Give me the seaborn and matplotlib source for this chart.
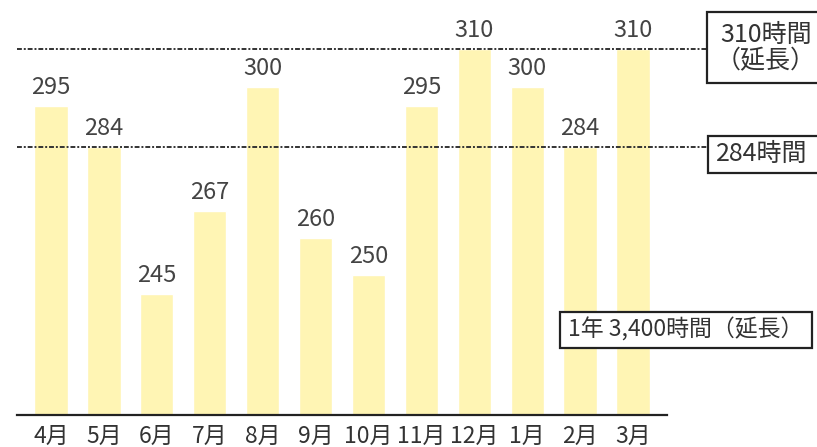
import matplotlib
matplotlib.use("Agg")
import matplotlib.pyplot as plt
import matplotlib.transforms as mtransforms
from matplotlib.patches import Rectangle
import seaborn as sns
import pandas as pd

# data
months = ["4月", "5月", "6月", "7月", "8月", "9月", "10月", "11月", "12月", "1月", "2月", "3月"]
hours = [295, 284, 245, 267, 300, 260, 250, 295, 310, 300, 284, 310]
ref_lines = [310, 284]
ref_texts = ["310時間\n（延長）", "284時間"]
total_text = "1年 3,400時間（延長）"

sns.set_style("white")
plt.rcParams["font.family"] = ["Noto Sans CJK JP", "DejaVu Sans"]

df = pd.DataFrame({"month": months, "hours": hours})

W, H = 817, 447
fig = plt.figure(figsize=(W / 100, H / 100), dpi=100)
ax = fig.add_axes([17 / W, 32 / H, 650 / W, 415 / H])

sns.barplot(data=df, x="month", y="hours", color="#fff5b4", width=0.63,
            saturation=1, ax=ax, zorder=1)
ax.set_ylim(213, 323)
ax.set_xlim(-0.643, 11.643)

# value labels
ax.bar_label(ax.containers[0], labels=[str(v) for v in hours], padding=5,
             fontsize=17, color="#444444", zorder=5,
             bbox=dict(facecolor="white", edgecolor="none", pad=0.5))

# dotted reference lines running out to the boxes
trans = mtransforms.blended_transform_factory(ax.transAxes, ax.transData)
line_end = (707 - 17) / 650
for v in ref_lines:
    ax.plot([0, line_end], [v, v], transform=trans, clip_on=False,
            color="#333333", lw=1.4, ls=(0, (2.5, 1, 1, 1)), zorder=3)


def px_box(x0, y0, x1, y1):
    # rectangle given in picture pixels (top-left origin)
    r = Rectangle((x0 / W, 1 - y1 / H), (x1 - x0) / W, (y1 - y0) / H,
                  transform=fig.transFigure, fill=True, facecolor="white",
                  edgecolor="#222222", lw=1.6, zorder=4)
    fig.add_artist(r)


# boxes at the right (run off the edge of the picture)
px_box(707, 12, 840, 83)
fig.text(766 / W, 1 - 48 / H, ref_texts[0], ha="center", va="center",
         multialignment="center", fontsize=18, color="#333333",
         linespacing=1.0, zorder=5)
px_box(708, 136, 840, 173)
fig.text(762 / W, 1 - 154 / H, ref_texts[1], ha="center", va="center",
         fontsize=18, color="#333333", zorder=5)
px_box(560, 312, 812, 348)
fig.text(686 / W, 1 - 330 / H, total_text, ha="center", va="center",
         fontsize=16.5, color="#333333", zorder=5)

# axes styling
for s in ["top", "right", "left"]:
    ax.spines[s].set_visible(False)
ax.spines["bottom"].set_linewidth(1.6)
ax.spines["bottom"].set_color("#222222")
ax.set_yticks([])
ax.set_xlabel("")
ax.set_ylabel("")
ax.tick_params(axis="x", length=0, pad=7, labelsize=16.5, labelcolor="#333333")

fig.savefig("out.png", dpi=100)
